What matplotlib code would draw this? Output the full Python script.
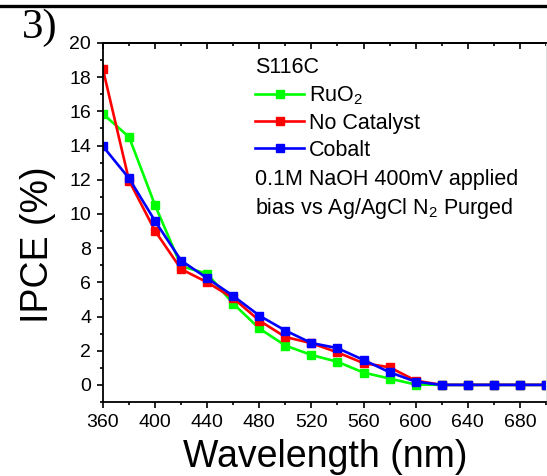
import numpy as np
import matplotlib
matplotlib.use('Agg')
import matplotlib.pyplot as plt
from matplotlib.lines import Line2D
from matplotlib.ticker import MultipleLocator

plt.rcParams['font.family'] = ['Liberation Sans', 'DejaVu Sans']
plt.rcParams['mathtext.default'] = 'regular'

# IPCE spectra, sample S116C
wavelength = [360, 380, 400, 420, 440, 460, 480, 500, 520, 540,
              560, 580, 600, 620, 640, 660, 680, 700]
ruo2 = [15.85, 14.5, 10.5, 6.95, 6.5, 4.75, 3.3, 2.3, 1.75, 1.35,
        0.72, 0.37, 0.02, 0.0, 0.0, 0.0, 0.0, 0.0]
no_catalyst = [18.45, 11.95, 9.0, 6.77, 6.0, 5.07, 3.76, 2.8, 2.44, 1.9,
               1.27, 1.03, 0.25, 0.0, 0.0, 0.0, 0.0, 0.0]
cobalt = [13.95, 12.08, 9.58, 7.27, 6.24, 5.2, 4.05, 3.18, 2.45, 2.15,
          1.46, 0.74, 0.19, 0.0, 0.0, 0.0, 0.0, 0.0]

fig = plt.figure(figsize=(5.47, 4.76), dpi=100)
ax = fig.add_axes([0.1883, 0.1555, 0.8097, 0.7542])

kw = dict(marker='s', markersize=5.8, linewidth=1.9)
ax.plot(wavelength, ruo2, color='#00ff00', label='RuO$_2$', **kw)
ax.plot(wavelength, no_catalyst, color='#ff0000', label='No Catalyst', **kw)
ax.plot(wavelength, cobalt, color='#0000ff', label='Cobalt', **kw)

ax.set_xlim(360, 700)
ax.set_ylim(-1, 20)
ax.xaxis.set_major_locator(MultipleLocator(40))
ax.xaxis.set_minor_locator(MultipleLocator(20))
ax.yaxis.set_major_locator(MultipleLocator(2))
ax.yaxis.set_minor_locator(MultipleLocator(1))
ax.tick_params(which='both', direction='out', width=1.2, labelsize=14,
               top=False, right=False)
ax.tick_params(which='major', length=4.5, pad=4)
ax.tick_params(which='minor', length=2.5)
for side in ['left', 'bottom', 'top']:
    ax.spines[side].set_linewidth(1.3)
ax.spines['right'].set_color('#dddddd')
ax.spines['right'].set_linewidth(0.8)

# inward ticks along the top edge
top = ax.secondary_xaxis('top')
top.xaxis.set_major_locator(MultipleLocator(40))
top.xaxis.set_minor_locator(MultipleLocator(20))
top.tick_params(which='both', direction='in', width=1.2, labeltop=False)
top.tick_params(which='major', length=4)
top.tick_params(which='minor', length=2.5)
top.spines['top'].set_linewidth(1.3)

ax.set_xlabel('Wavelength (nm)', fontsize=27)
ax.set_ylabel('IPCE (%)', fontsize=27)
ax.xaxis.set_label_coords(0.502, -0.104)
ax.yaxis.set_label_coords(-0.105, 0.437)

leg = ax.legend(loc='upper left', bbox_to_anchor=(0.343, 0.96), frameon=False,
                title='S116C', title_fontsize=15.5, fontsize=15.5,
                alignment='left', handlelength=2.3, handletextpad=0.2,
                labelspacing=0.28, borderaxespad=0, borderpad=0)
ax.text(0.343, 0.648, '0.1M NaOH 400mV applied\nbias vs Ag/AgCl N$_2$ Purged',
        transform=ax.transAxes, fontsize=15.5, ha='left', va='top',
        linespacing=1.3)

fig.text(0.04, 0.941, '3)', family='Liberation Serif', fontsize=31,
         ha='left', va='center')
fig.add_artist(Line2D([0, 1], [0.987, 0.987], transform=fig.transFigure,
                      color='black', linewidth=2.4))

fig.savefig('out.png', dpi=100)
